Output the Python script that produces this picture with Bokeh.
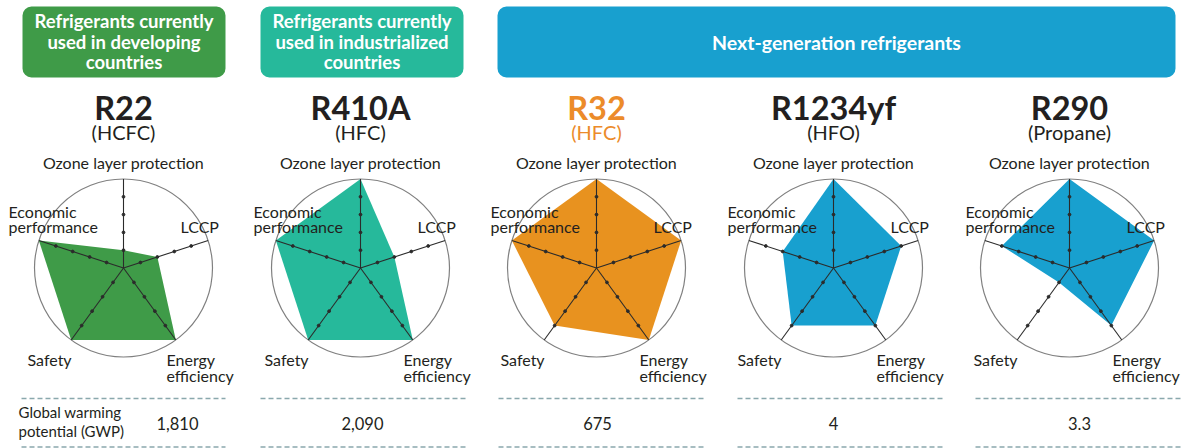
import math
from bokeh.plotting import figure
from bokeh.models import Range1d
from bokeh.core.properties import value
from bokeh.embed import file_html
from bokeh.resources import INLINE

# ---------------- data ----------------
refrigerants = ["R22", "R410A", "R32", "R1234yf", "R290"]
ref_types = ["(HCFC)", "(HFC)", "(HFC)", "(HFO)", "(Propane)"]
criteria = ["Ozone layer protection", "LCCP", "Energy efficiency", "Safety", "Economic performance"]
r22 = [1, 2, 5, 5, 5]
r410a = [5, 2, 5, 5, 5]
r32 = [5, 5, 5, 4, 5]
r1234yf = [5, 4, 4, 4, 3]
r290 = [5, 5, 4, 1, 4]
scores = [r22, r410a, r32, r1234yf, r290]
gwp_label = ["Global warming", "potential (GWP)"]
gwp_values = ["1,810", "2,090", "675", "4", "3.3"]
group_labels = [
    ["Refrigerants currently", "used in developing", "countries"],
    ["Refrigerants currently", "used in industrialized", "countries"],
    ["Next-generation refrigerants"],
]
max_score = 5

# ---------------- style / layout ----------------
GREEN, TEAL, ORANGE, BLUE = "#3f9b48", "#26b99b", "#e8921f", "#18a0cf"
fill_colors = [GREEN, TEAL, ORANGE, BLUE, BLUE]
title_colors = ["#231f20", "#231f20", "#ec8b2a", "#231f20", "#231f20"]
TXT = "#231f20"
FONT = "Lato"

W, H = 1182, 448

p = figure(width=W, height=H, x_range=Range1d(0, W), y_range=Range1d(H, 0),
           output_backend="svg", toolbar_location=None, min_border=0,
           x_axis_location=None, y_axis_location=None, background_fill_color="white")
p.grid.visible = False
p.outline_line_color = None


def label(xs, ys, texts, size, align="left", color=TXT, bold=False):
    # ys are intended baselines; compensate for the renderer's baseline offset
    off = 3 + 0.25 * size
    p.text(x=list(xs), y=[y - off for y in ys], text=list(texts), text_align=align,
           text_baseline="alphabetic", text_color=color, text_font=value(FONT),
           text_font_style="bold" if bold else "normal", text_font_size=f"{size:.1f}px")


# header boxes
box_l = [22, 260, 497]
box_r = [225, 463, 1175]
p.quad(left=box_l, right=box_r, top=[6] * 3, bottom=[77] * 3,
       fill_color=[GREEN, TEAL, BLUE], line_color=None, border_radius=9)
for i, lines in enumerate(group_labels):
    bx = (box_l[i] + box_r[i]) / 2
    if len(lines) == 3:
        ys, size = [28.5, 49, 69.5], 18.5
    else:
        ys, size = [49.5], 19.5
    label([bx] * len(lines), ys, lines, size, align="center", color="white", bold=True)

centers_x = [123, 360, 596, 833, 1069]
CY = 267.5
R = 89
econ_off = [-115, -107, -106, -106, -104]
angles = [math.radians(72 * k) for k in range(5)]
dirs = [(math.sin(a), -math.cos(a)) for a in angles]

for i, cx in enumerate(centers_x):
    # titles
    label([cx], [118], [refrigerants[i]], 32.5, align="center", color=title_colors[i], bold=True)
    label([cx], [139], [ref_types[i]], 20, align="center", color=title_colors[i])
    # circle
    p.circle(x=[cx], y=[CY], radius=R, fill_color=None, line_color="#808080", line_width=1.2)
    # polygon
    unit = R / max_score
    xs = [cx + v * unit * d[0] for v, d in zip(scores[i], dirs)]
    ys = [CY + v * unit * d[1] for v, d in zip(scores[i], dirs)]
    p.patch(xs, ys, fill_color=fill_colors[i], line_color=None)
    # spokes
    p.multi_line(xs=[[cx, cx + R * d[0]] for d in dirs], ys=[[CY, CY + R * d[1]] for d in dirs],
                 line_color="#2b2b2b", line_width=1.1)
    tx, ty = [], []
    for d in dirs:
        for lv in range(1, max_score):
            tx.append(cx + lv * unit * d[0])
            ty.append(CY + lv * unit * d[1])
    p.scatter(tx, ty, size=2.8, color="#2b2b2b")
    # labels
    label([cx], [CY - 99], [criteria[0]], 16, align="center")
    label([cx + 57], [CY - 35], [criteria[1]], 16)
    label([cx + 43, cx + 43], [CY + 98, CY + 114.5], ["Energy", "efficiency"], 16)
    label([cx - 96], [CY + 98], [criteria[3]], 16)
    label([cx + econ_off[i]] * 2, [CY - 50, CY - 34.5], ["Economic", "performance"], 16)

# GWP row
seg_x0 = [21, 260, 498, 737, 975]
seg_x1 = [225, 465, 703, 943, 1182]
for yy in (398, 446.5):
    p.segment(x0=seg_x0, x1=seg_x1, y0=[yy] * 5, y1=[yy] * 5, line_color="#8aa8ad",
              line_width=1.5, line_dash="5 3")
label([18, 18], [418, 437], gwp_label, 15)
label([177, 362, 597, 833, 1079], [430] * 5, gwp_values, 16.5, align="center")

open("out.html", "w").write(file_html(p, INLINE))
